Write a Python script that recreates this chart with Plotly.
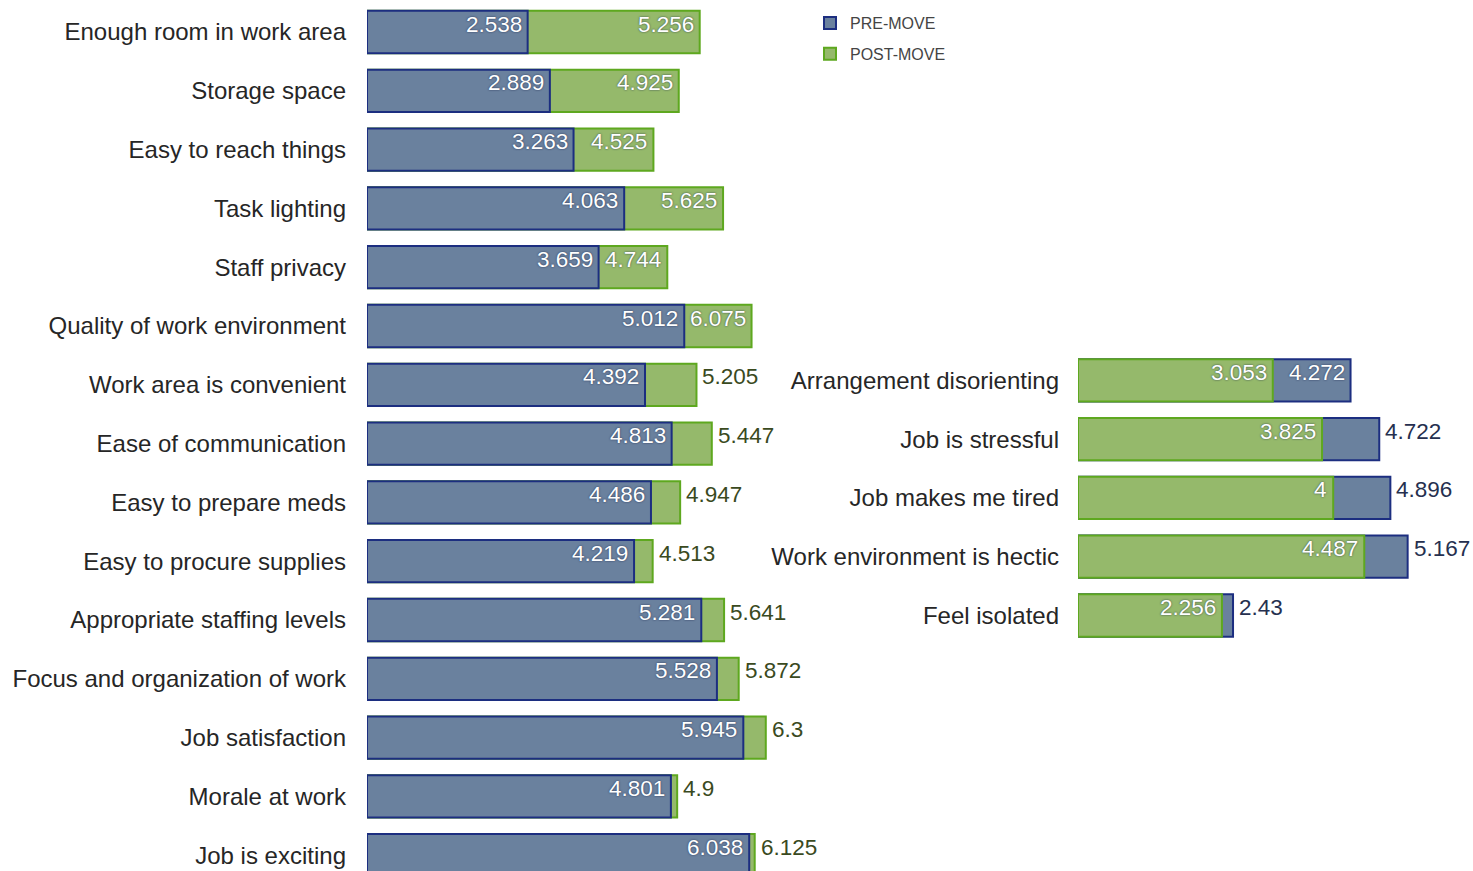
import plotly.graph_objects as go

# ---------------- data ----------------
left_categories = [
    "Enough room in work area", "Storage space", "Easy to reach things", "Task lighting",
    "Staff privacy", "Quality of work environment", "Work area is convenient",
    "Ease of communication", "Easy to prepare meds", "Easy to procure supplies",
    "Appropriate staffing levels", "Focus and organization of work", "Job satisfaction",
    "Morale at work", "Job is exciting",
]
left_pre = [2.538, 2.889, 3.263, 4.063, 3.659, 5.012, 4.392, 4.813, 4.486, 4.219,
            5.281, 5.528, 5.945, 4.801, 6.038]
left_post = [5.256, 4.925, 4.525, 5.625, 4.744, 6.075, 5.205, 5.447, 4.947, 4.513,
             5.641, 5.872, 6.3, 4.9, 6.125]

right_categories = [
    "Arrangement disorienting", "Job is stressful", "Job makes me tired",
    "Work environment is hectic", "Feel isolated",
]
right_pre = [4.272, 4.722, 4.896, 5.167, 2.43]
right_post = [3.053, 3.825, 4.0, 4.487, 2.256]

# ---------------- styles ----------------
BLUE_FILL = "#6a819e"
BLUE_LINE = "#1c2e80"
GREEN_FILL = "#95b96b"
GREEN_LINE = "#5ea81f"
FONT = "Liberation Sans, Helvetica, Arial, sans-serif"
CAT_COLOR = "#262626"
CAT_SIZE = 24
VAL_SIZE = 22.5
SHADOW = "0px 0px 2px rgba(25,35,70,0.85)"
INSIDE_MIN = 1.0  # segment width (units) needed for a label to fit inside

W, H = 1473, 871
PX_L = 63.3
PX_R = 63.8
X0_L = 367
X0_R = 1078
XR_L = 6.6
XR_R = 6.0
PITCH = 58.8
ROW0 = 32.0
BAR_W = 0.72

fig = go.Figure()

yl = list(range(len(left_categories)))
yr = list(range(len(right_categories)))

# left panel: green (post) behind, blue (pre) in front
fig.add_trace(go.Bar(
    y=yl, x=left_post, orientation="h", xaxis="x", yaxis="y",
    name="POST-MOVE", legendrank=2, legendgroup="post", width=BAR_W,
    marker=dict(color=GREEN_FILL, line=dict(color=GREEN_LINE, width=2)),
    hoverinfo="skip",
))
fig.add_trace(go.Bar(
    y=yl, x=left_pre, orientation="h", xaxis="x", yaxis="y",
    name="PRE-MOVE", legendrank=1, legendgroup="pre", width=BAR_W,
    marker=dict(color=BLUE_FILL, line=dict(color=BLUE_LINE, width=2)),
    hoverinfo="skip",
))
# right panel: blue (pre) behind, green (post) in front
fig.add_trace(go.Bar(
    y=yr, x=right_pre, orientation="h", xaxis="x2", yaxis="y2",
    name="PRE-MOVE", showlegend=False, legendgroup="pre", width=BAR_W,
    marker=dict(color=BLUE_FILL, line=dict(color=BLUE_LINE, width=2)),
    hoverinfo="skip",
))
fig.add_trace(go.Bar(
    y=yr, x=right_post, orientation="h", xaxis="x2", yaxis="y2",
    name="POST-MOVE", showlegend=False, legendgroup="post", width=BAR_W,
    marker=dict(color=GREEN_FILL, line=dict(color=GREEN_LINE, width=2)),
    hoverinfo="skip",
))


def fmt(v):
    return f"{v:.3f}".rstrip("0").rstrip(".")


annotations = []
inside_font = dict(family=FONT, size=VAL_SIZE, color="white", shadow=SHADOW)


def inside(x, y, v, xref, yref):
    annotations.append(dict(
        x=x, y=y, xref=xref, yref=yref, text=fmt(v), showarrow=False,
        xanchor="right", yanchor="middle", xshift=-4, yshift=8,
        font=inside_font,
    ))


def outside(x, y, v, xref, yref, color):
    annotations.append(dict(
        x=x, y=y, xref=xref, yref=yref, text=fmt(v), showarrow=False,
        xanchor="left", yanchor="middle", xshift=4, yshift=8,
        font=dict(family=FONT, size=VAL_SIZE, color=color),
    ))


for i, (a, b) in enumerate(zip(left_pre, left_post)):
    inside(a, i, a, "x", "y")
    if b - a >= INSIDE_MIN:
        inside(b, i, b, "x", "y")
    else:
        outside(b, i, b, "x", "y", "#3a4a1e")

for i, (a, b) in enumerate(zip(right_pre, right_post)):
    inside(b, i, b, "x2", "y2")
    if a - b >= INSIDE_MIN:
        inside(a, i, a, "x2", "y2")
    else:
        outside(a, i, a, "x2", "y2", "#26304f")

# axis geometry
top_l = -ROW0 / PITCH
bot_l = (H - ROW0) / PITCH
shift_r = 4.5 / PITCH  # right rows sit a little higher
r_off = 6

fig.update_layout(
    width=W, height=H,
    margin=dict(l=0, r=0, t=0, b=0),
    paper_bgcolor="white", plot_bgcolor="white",
    barmode="overlay",
    font=dict(family=FONT, color=CAT_COLOR),
    showlegend=True,
    legend=dict(
        x=810 / W, y=1 - 6 / H, xanchor="left", yanchor="top",
        font=dict(family=FONT, size=16, color="#444444"),
        bgcolor="rgba(0,0,0,0)", tracegroupgap=7, itemwidth=30,
        traceorder="grouped",
    ),
    xaxis=dict(
        domain=[X0_L / W, (X0_L + XR_L * PX_L) / W], range=[0, XR_L],
        visible=False, fixedrange=True,
    ),
    yaxis=dict(
        anchor="x", range=[bot_l, top_l],
        tickvals=yl, ticktext=left_categories,
        tickfont=dict(family=FONT, size=CAT_SIZE, color=CAT_COLOR),
        showgrid=False, zeroline=False, showline=False, ticks="",
        ticklabelstandoff=20, automargin=False,
    ),
    xaxis2=dict(
        domain=[X0_R / W, (X0_R + XR_R * PX_R) / W], range=[0, XR_R],
        visible=False, fixedrange=True, anchor="y2",
    ),
    yaxis2=dict(
        anchor="x2", range=[bot_l + shift_r - r_off, top_l + shift_r - r_off],
        tickvals=yr, ticktext=right_categories,
        tickfont=dict(family=FONT, size=CAT_SIZE, color=CAT_COLOR),
        showgrid=False, zeroline=False, showline=False, ticks="",
        ticklabelstandoff=18, automargin=False,
    ),
    annotations=annotations,
)

fig.write_html(
    "out.html",
    config={"displayModeBar": False},
    post_script="document.body.style.margin='0';document.body.style.overflow='hidden';",
)
